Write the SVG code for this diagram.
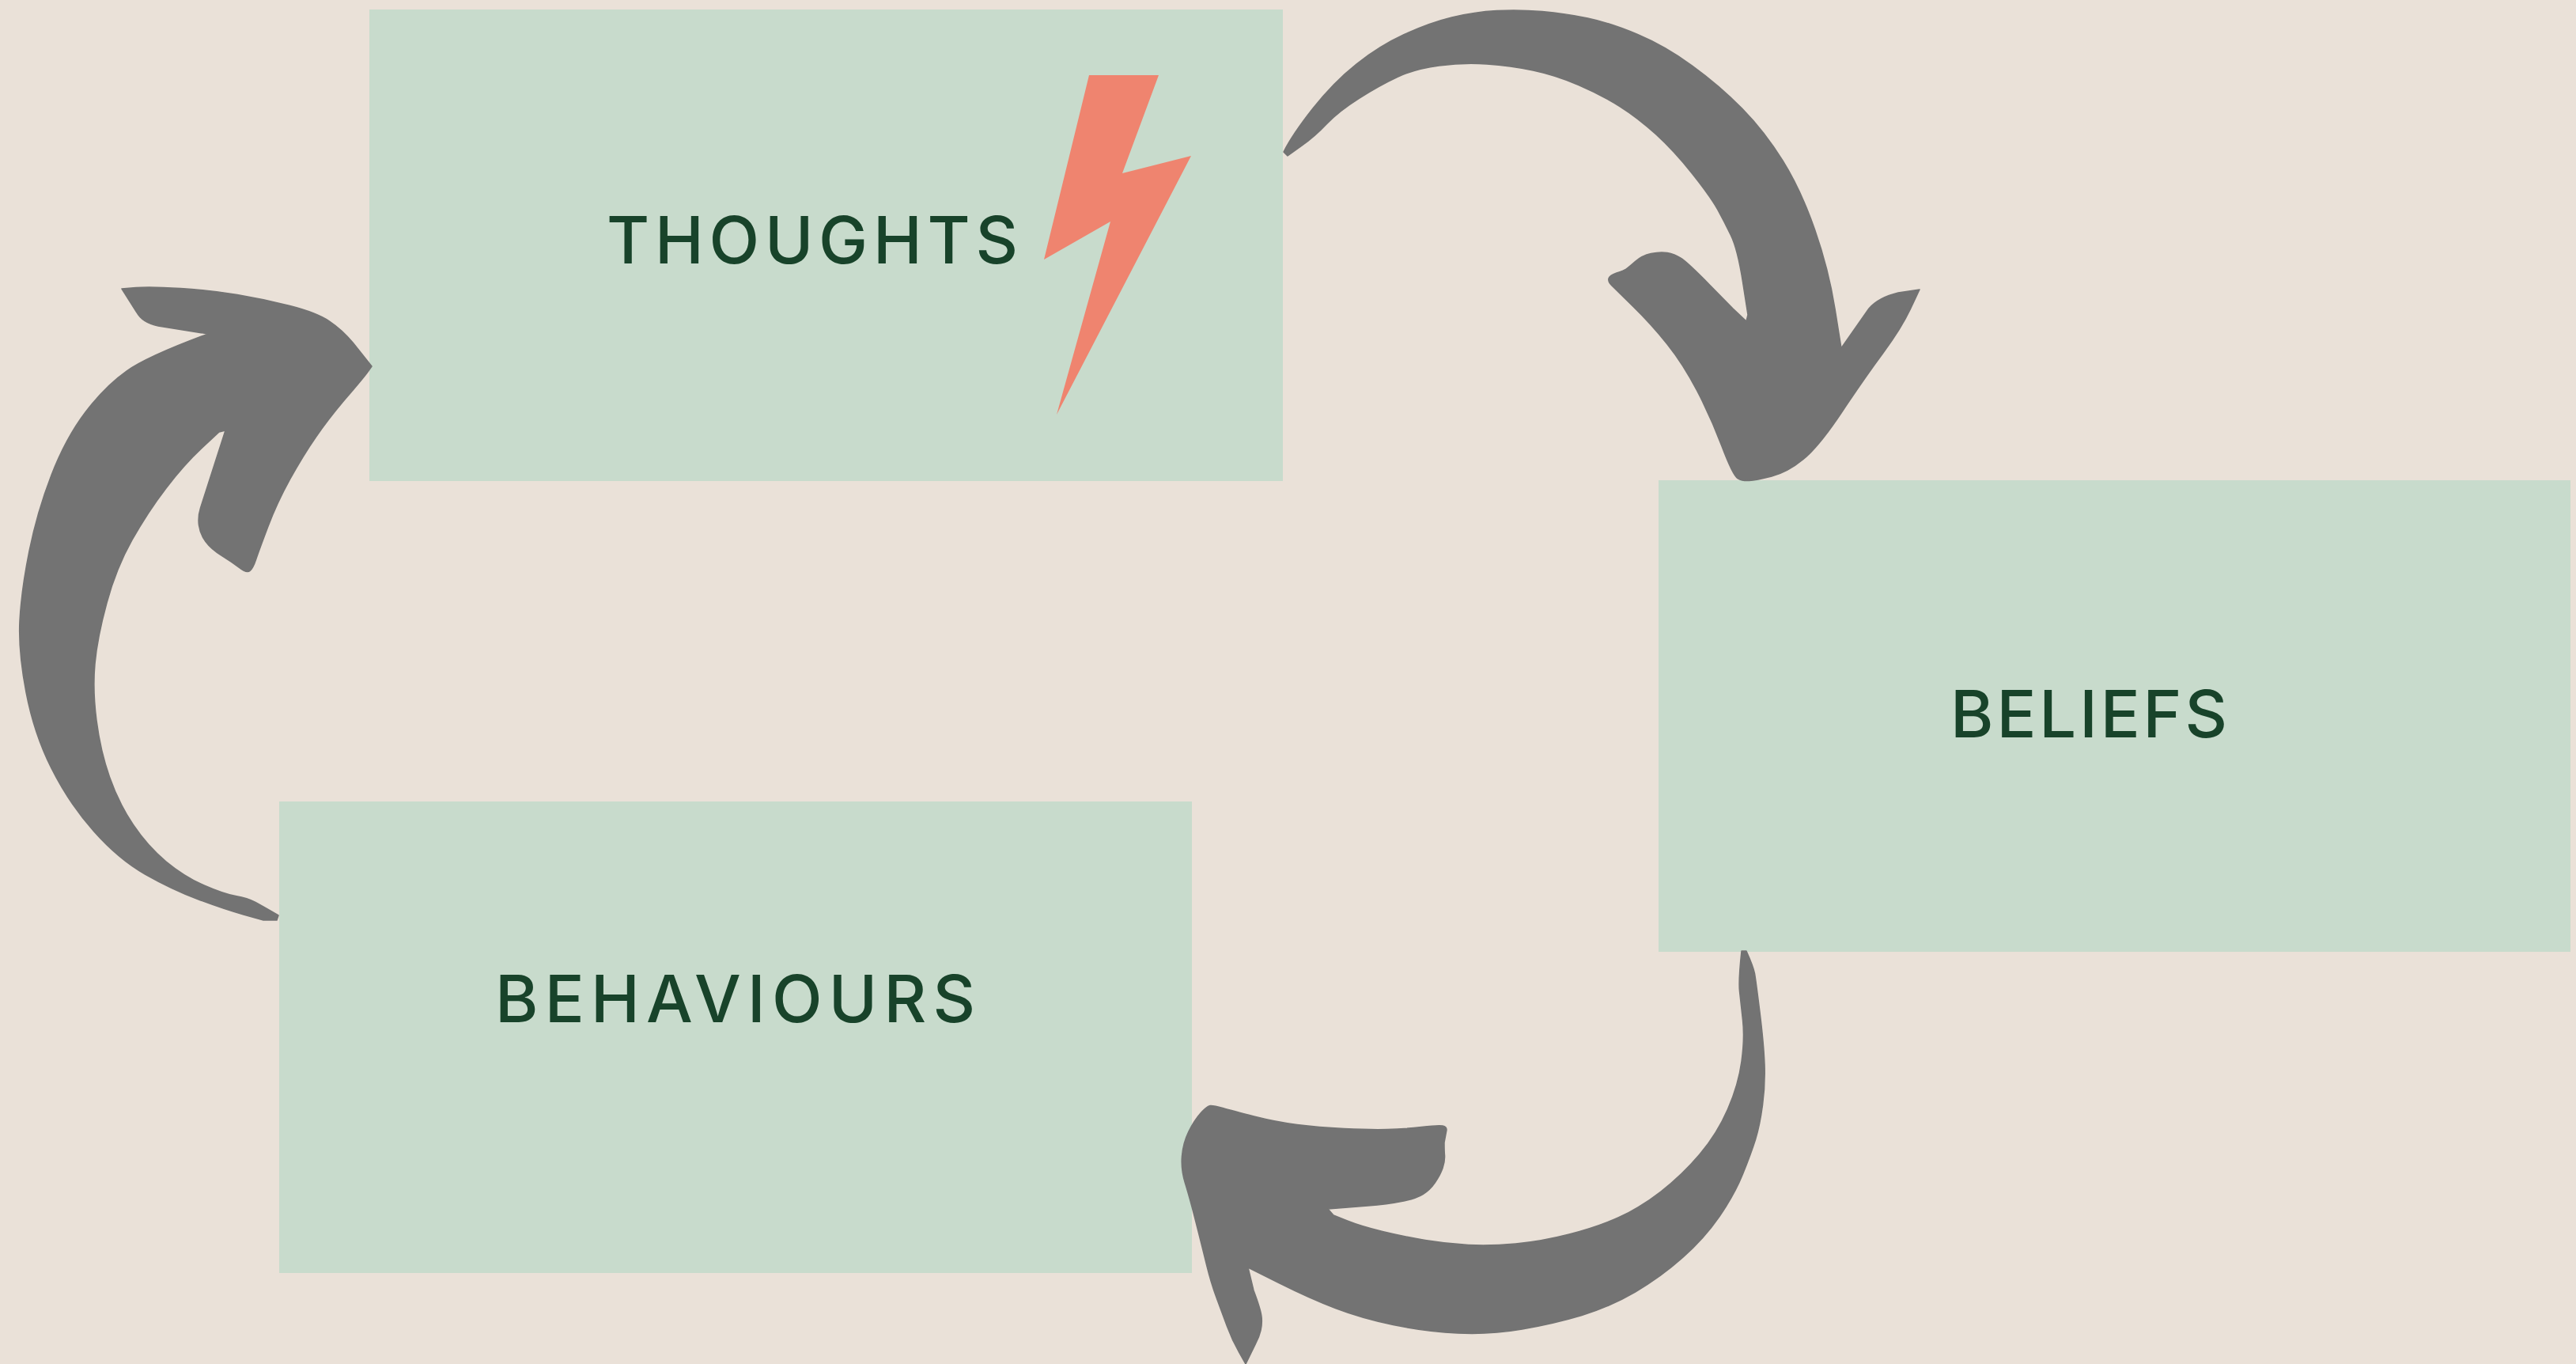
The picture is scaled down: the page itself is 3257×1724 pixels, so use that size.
<svg xmlns="http://www.w3.org/2000/svg" width="3257" height="1724" viewBox="0 0 3257 1724">
<style>
.box{fill:#C8DBCC}
.lbl{font-family:Inter,"Liberation Sans",sans-serif;font-weight:500;font-size:83px;fill:#18432A}
.arrow{fill:#737373;stroke:#737373;stroke-width:1.5;stroke-linejoin:round}
.bolt{fill:#EF846F}
</style>
<rect width="3257" height="1724" fill="#EAE1D8"/>
<g id="thoughts">
<rect class="box" x="467" y="12" width="1155" height="596"/>
<text class="lbl" x="767" y="333" textLength="520" lengthAdjust="spacing">THOUGHTS</text>
<polygon class="bolt" points="1377,95 1465,95 1419,219 1506,197 1336,524 1404,280 1320,328"/>
</g>
<g id="beliefs">
<rect class="box" x="2097" y="607" width="1153" height="596"/>
<text class="lbl" x="2466" y="932" textLength="350" lengthAdjust="spacing">BELIEFS</text>
</g>
<g id="behaviours">
<rect class="box" x="353" y="1013" width="1154" height="596"/>
<text class="lbl" x="626" y="1292" textLength="607" lengthAdjust="spacing">BEHAVIOURS</text>
</g>
<g id="connectors">
<path class="arrow" d="M1623,192 L1628,197 L1645.5,184.5 Q1663,172 1677.5,156.5 Q1692,141 1718,124.5 Q1744,108 1766.5,97.5 Q1789,87 1819.5,83 Q1850,79 1880,81 Q1910,83 1938.5,89 Q1967,95 1996,107.5 Q2025,120 2048,134.5 Q2071,149 2094,170 Q2117,191 2140,220 Q2163,249 2171.5,264.5 Q2180,280 2188.5,297.5 Q2197,315 2203.5,356.5 L2210,398 L2208,406 L2191,390 L2162.5,361 Q2134,332 2125.5,326.5 Q2117,321 2108,319.5 Q2099,318 2087.5,320.5 Q2076,323 2067.5,330.5 Q2059,338 2056,340 Q2053,342 2044,345 Q2035,348 2034,352 Q2033,356 2037.5,360.5 Q2042,365 2065,387.5 Q2088,410 2108,435 Q2128,460 2145.5,493.5 Q2163,527 2177,564 Q2191,601 2197,604.5 Q2203,608 2211.5,607.5 Q2220,607 2240,602 Q2260,597 2280,580.5 Q2300,564 2329,520.5 Q2358,477 2381,446 Q2404,415 2415.5,390.5 L2427,366 L2400,370 Q2375,376 2363,390 L2328,440 L2320,390 Q2312,340 2294.5,290 Q2277,240 2254,203 Q2231,166 2202.5,137 Q2174,108 2139.5,83 Q2105,58 2070.5,43.5 Q2036,29 2007.5,23 Q1979,17 1950,14.5 Q1921,12 1892.5,13.5 Q1864,15 1835.5,22 Q1807,29 1775.5,43.5 Q1744,58 1715,81 Q1686,104 1660,137 Q1634,170 1623,192 Z"/>
<path class="arrow" d="M154,365 L172,363.5 Q190,362 228.5,364.5 Q267,367 300,372.5 Q333,378 366.5,386.5 Q400,395 416.5,406 Q433,417 446.5,433.5 L470,463 L465,470 Q460,477 438.5,502 Q417,527 400,551.5 Q383,576 366.5,606 Q350,636 338.5,666.5 Q327,697 323.5,707.5 Q320,718 316,721.5 Q312,725 302.5,717.5 Q293,710 280,702 Q267,694 260,684.5 Q253,675 251.5,664 Q250,653 253.5,642 Q257,631 271,587.5 L285,544 L277,546 L255,566.5 Q233,587 210,617 Q187,647 167,682.5 Q147,718 135,762 Q123,806 120,839 Q117,872 122,910.5 Q127,949 138.5,982 Q150,1015 168.5,1042.5 Q187,1070 210,1089 Q233,1108 258,1119 Q283,1130 298,1132.5 Q313,1135 323,1140.5 Q333,1146 342.5,1151.5 L352,1157 L350,1163 L333,1163 L308,1156 Q283,1149 250,1136.5 Q217,1124 183.5,1105 Q150,1086 118.5,1050.5 Q87,1015 65,971 Q43,927 33,875 Q23,823 25,784.5 Q27,746 37,696.5 Q47,647 65,600.5 Q83,554 108,521 Q133,488 160,469 Q187,450 263,422 L200,412 Q180,408 173,395 L154,365 Z"/>
<path class="arrow" d="M2202,1202 L2208,1202 Q2217,1222 2218.5,1230.5 Q2220,1239 2225,1279 Q2230,1319 2231,1345 Q2232,1371 2228.5,1397 Q2225,1423 2219.5,1440.5 Q2214,1458 2203.5,1484 Q2193,1510 2174,1537.5 Q2155,1565 2127.5,1589.5 Q2100,1614 2067.5,1633 Q2035,1652 2000,1662.5 Q1965,1673 1924.5,1680 Q1884,1687 1843,1685 Q1802,1683 1761.5,1674.5 Q1721,1666 1688.5,1653.5 Q1656,1641 1617,1621.5 L1578,1602 L1585,1631 Q1594,1655 1595,1664 Q1596,1673 1594,1681.5 Q1592,1690 1587.5,1698.5 L1575,1724 L1566.5,1709 Q1558,1694 1551.5,1676.5 Q1545,1659 1538,1640 Q1531,1621 1525.5,1598.5 Q1520,1576 1512,1544.5 Q1504,1513 1498.5,1495.5 Q1493,1478 1494.5,1461 Q1496,1444 1503,1430 Q1510,1416 1518,1407 Q1526,1398 1530,1397.5 Q1534,1397 1546,1400.5 Q1558,1404 1585.5,1411 Q1613,1418 1640,1421.5 Q1667,1425 1699.5,1426.5 Q1732,1428 1753.5,1427.5 Q1775,1427 1797,1424.5 Q1819,1422 1824,1423 Q1829,1424 1829,1428 L1826,1444 Q1826,1456 1826.5,1460 Q1827,1468 1824,1476.5 Q1821,1485 1814.5,1494.5 Q1808,1504 1799,1509.5 Q1790,1515 1772,1518.5 Q1754,1522 1729.5,1524 L1679,1528 L1686,1536 L1703.5,1543 Q1721,1550 1748,1556.5 Q1775,1563 1802,1567.5 Q1829,1572 1856.5,1573.5 Q1884,1575 1916.5,1572 Q1949,1569 1984,1560 Q2019,1551 2046,1539 Q2073,1527 2100,1506 Q2127,1485 2149,1459 Q2171,1433 2184.5,1402 Q2198,1371 2202,1341.5 Q2206,1312 2203.5,1289.5 Q2201,1267 2199.5,1253 Q2198,1239 2202,1202 Z"/>
</g>
</svg>
